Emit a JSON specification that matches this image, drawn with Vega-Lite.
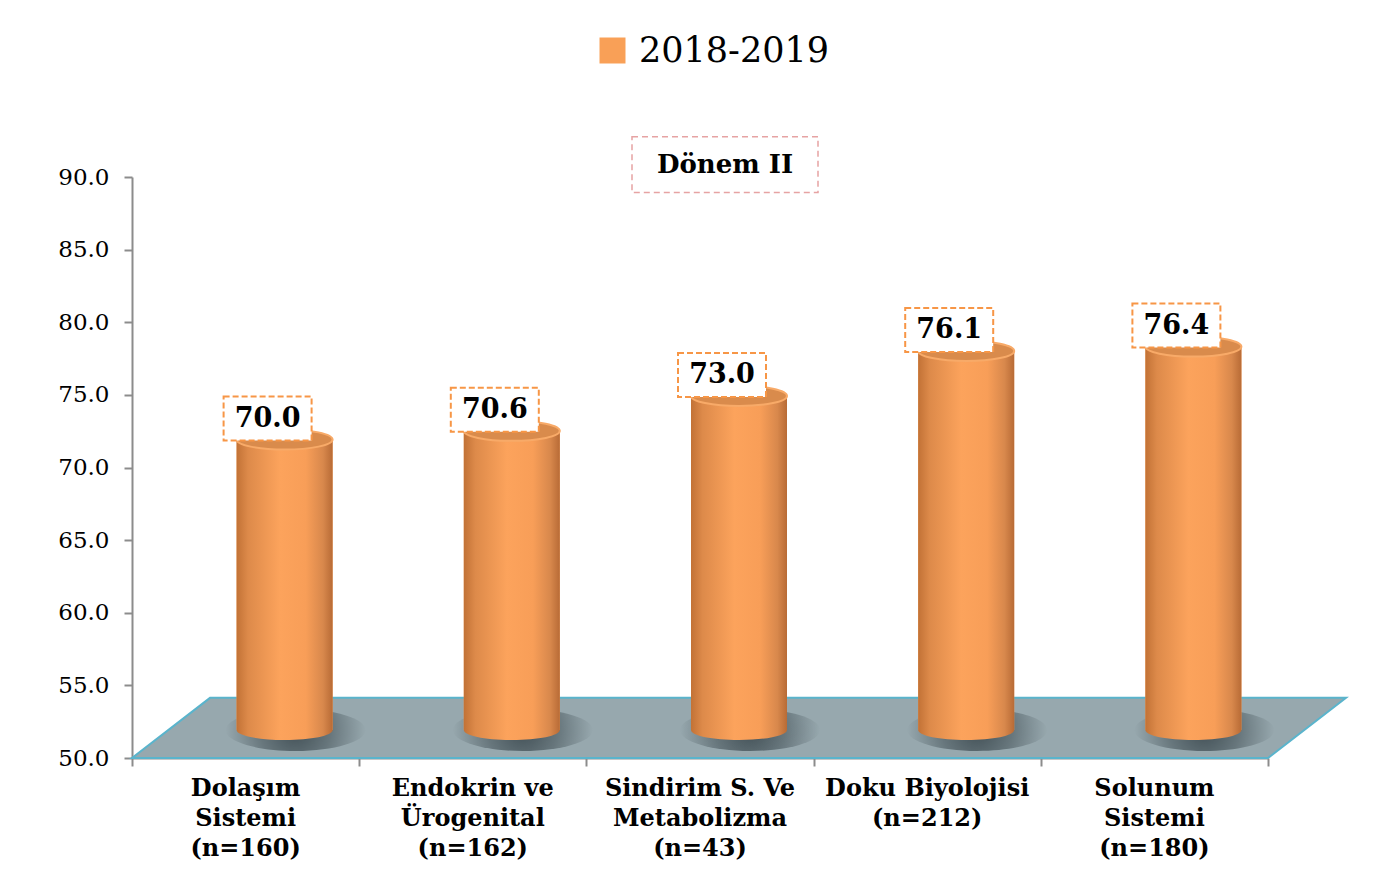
{
  "$schema": "https://vega.github.io/schema/vega-lite/v6.json",
  "width": 1136,
  "height": 581,
  "autosize": {"type": "none"},
  "padding": {"left": 132, "top": 177, "right": 122, "bottom": 128},
  "background": "white",
  "config": {"view": {"stroke": null}, "font": "DejaVu Serif"},
  "datasets": {
    "bars": [
      {"cat": "Dolaşım\nSistemi\n(n=160)", "value": 70.0, "series": "2018-2019"},
      {"cat": "Endokrin ve\nÜrogenital\n(n=162)", "value": 70.6, "series": "2018-2019"},
      {"cat": "Sindirim S. Ve\nMetabolizma\n(n=43)", "value": 73.0, "series": "2018-2019"},
      {"cat": "Doku Biyolojisi\n(n=212)", "value": 76.1, "series": "2018-2019"},
      {"cat": "Solunum\nSistemi\n(n=180)", "value": 76.4, "series": "2018-2019"}
    ],
    "floor": [
      {"fx": 0, "lo": 50, "hi": 50},
      {"fx": 0.0687, "lo": 50, "hi": 54.14},
      {"fx": 1, "lo": 50, "hi": 54.14},
      {"fx": 1.0687, "lo": 54.14, "hi": 54.14}
    ]
  },
  "resolve": {"scale": {"x": "independent"}},
  "layer": [
    {
      "data": {"name": "floor"},
      "mark": {"type": "area", "fill": "#97a8ae", "stroke": "#5ab4cc", "strokeWidth": 2, "opacity": 1},
      "encoding": {
        "x": {
          "field": "fx", "type": "quantitative",
          "scale": {"domain": [0, 1], "nice": false, "zero": false},
          "axis": {"orient": "bottom", "values": [0, 0.2, 0.4, 0.6, 0.8, 1], "labels": false, "tickSize": 8, "tickColor": "#8c8c8c", "tickWidth": 2, "domainColor": "#8c8c8c", "domainWidth": 2, "grid": false, "title": null}
        },
        "y": {
          "field": "lo", "type": "quantitative",
          "scale": {"domain": [50, 90], "nice": false, "zero": false},
          "axis": {"values": [50, 55, 60, 65, 70, 75, 80, 85, 90], "format": ".1f", "labelFont": "DejaVu Serif", "labelFontSize": 23, "labelColor": "#000", "tickSize": 8, "tickColor": "#8c8c8c", "tickWidth": 2, "domainColor": "#8c8c8c", "domainWidth": 2, "grid": false, "title": null, "labelPadding": 15}
        },
        "y2": {"field": "hi"}
      }
    },
    {
      "data": {"name": "bars"},
      "encoding": {
        "x": {
          "field": "cat", "type": "nominal", "sort": null,
          "scale": {"paddingInner": 0, "paddingOuter": 0},
          "axis": {"orient": "bottom", "domain": false, "ticks": false, "labelAngle": 0, "labelFont": "DejaVu Serif", "labelFontWeight": "bold", "labelFontSize": 24, "labelColor": "#000", "labelPadding": 18, "labelLineHeight": 30, "labelLimit": 0, "labelExpr": "split(datum.label, '\\n')", "title": null}
        }
      },
      "layer": [
        {
          "mark": {"type": "point", "filled": true, "opacity": 1, "shape": "M-1,0 A1,0.3 0 0,1 1,0 A1,0.3 0 0,1 -1,0 Z", "size": 19600, "xOffset": 50, "yOffset": -28, "strokeWidth": 0,
            "fill": {"gradient": "radial", "stops": [{"offset": 0, "color": "rgba(45,58,64,0.8)"}, {"offset": 0.5, "color": "rgba(45,58,64,0.45)"}, {"offset": 1, "color": "rgba(45,58,64,0)"}]}},
          "encoding": {"y": {"datum": 50, "type": "quantitative", "scale": {"domain": [50, 90], "nice": false, "zero": false}}}
        },
        {
          "mark": {"type": "bar", "width": 96, "xOffset": 39, "x2Offset": 39, "yOffset": -28, "y2Offset": -28},
          "encoding": {
            "y": {"field": "value", "type": "quantitative", "scale": {"domain": [50, 90], "nice": false, "zero": false}, "title": null},
            "y2": {"datum": 50},
            "color": {"field": "series", "type": "nominal", "scale": {"range": ["#f9a057"]},
              "legend": {"orient": "none", "legendX": 463, "legendY": -144, "title": null, "symbolType": "square", "symbolSize": 676, "labelFont": "DejaVu Serif", "labelFontSize": 35, "labelColor": "#000", "labelOffset": 9, "labelLimit": 0, "padding": 0, "symbolStrokeWidth": 0, "symbolOpacity": 1}}
          }
        },
        {
          "mark": {"type": "bar", "width": 96, "xOffset": 39, "x2Offset": 39, "yOffset": -28, "y2Offset": -28,
            "fill": {"gradient": "linear", "x1": 0, "y1": 0, "x2": 1, "y2": 0, "stops": [{"offset": 0, "color": "#c27236"}, {"offset": 0.12, "color": "#dd8a4a"}, {"offset": 0.45, "color": "#fca35c"}, {"offset": 0.72, "color": "#f89e58"}, {"offset": 0.9, "color": "#d8884c"}, {"offset": 1, "color": "#b86b36"}]}},
          "encoding": {
            "y": {"field": "value", "type": "quantitative", "scale": {"domain": [50, 90], "nice": false, "zero": false}, "title": null},
            "y2": {"datum": 50}
          }
        },
        {
          "mark": {"type": "point", "filled": true, "opacity": 1, "shape": "M-1,0 A1,0.21 0 0,0 1,0 Z", "size": 9216, "xOffset": 39, "yOffset": -28, "strokeWidth": 0,
            "fill": {"gradient": "linear", "x1": 0, "y1": 0, "x2": 1, "y2": 0, "stops": [{"offset": 0, "color": "#c27236"}, {"offset": 0.12, "color": "#dd8a4a"}, {"offset": 0.45, "color": "#fca35c"}, {"offset": 0.72, "color": "#f89e58"}, {"offset": 0.9, "color": "#d8884c"}, {"offset": 1, "color": "#b86b36"}]}},
          "encoding": {"y": {"datum": 50, "type": "quantitative", "scale": {"domain": [50, 90], "nice": false, "zero": false}}}
        },
        {
          "mark": {"type": "point", "filled": true, "opacity": 1, "shape": "M-1,0 A1,0.21 0 0,1 1,0 A1,0.21 0 0,1 -1,0 Z", "size": 9216, "xOffset": 39, "yOffset": -28, "fill": "#d98b4c", "stroke": "#f8aa68", "strokeWidth": 2},
          "encoding": {"y": {"field": "value", "type": "quantitative", "scale": {"domain": [50, 90], "nice": false, "zero": false}}}
        },
        {
          "mark": {"type": "point", "filled": true, "opacity": 1, "shape": "M-1,-0.5 H1 V0.5 H-1 Z", "size": 7744, "xOffset": 22, "yOffset": -49, "fill": "#ffffff", "stroke": "#f79646", "strokeWidth": 2, "strokeDash": [6, 3]},
          "encoding": {"y": {"field": "value", "type": "quantitative", "scale": {"domain": [50, 90], "nice": false, "zero": false}}}
        },
        {
          "mark": {"type": "text", "xOffset": 22, "yOffset": -49, "font": "DejaVu Serif", "fontWeight": "bold", "fontSize": 27, "color": "#000", "align": "center", "baseline": "middle"},
          "encoding": {
            "y": {"field": "value", "type": "quantitative", "scale": {"domain": [50, 90], "nice": false, "zero": false}},
            "text": {"field": "value", "type": "quantitative", "format": ".1f"}
          }
        },
        {
          "data": {"values": [{"t": "Dönem II"}]},
          "mark": {"type": "point", "filled": true, "opacity": 1, "shape": "M-1,-0.3 H1 V0.3 H-1 Z", "size": 34596, "xOffset": 25, "fill": "#ffffff", "stroke": "#e6a3a3", "strokeWidth": 1.5, "strokeDash": [6, 4]},
          "encoding": {
            "x": {"datum": "Sindirim S. Ve\nMetabolizma\n(n=43)", "type": "nominal"},
            "y": {"datum": 90.85, "type": "quantitative", "scale": {"domain": [50, 90], "nice": false, "zero": false}}
          }
        },
        {
          "data": {"values": [{"t": "Dönem II"}]},
          "mark": {"type": "text", "xOffset": 25, "font": "DejaVu Serif", "fontWeight": "bold", "fontSize": 26, "color": "#000", "align": "center", "baseline": "middle"},
          "encoding": {
            "x": {"datum": "Sindirim S. Ve\nMetabolizma\n(n=43)", "type": "nominal"},
            "y": {"datum": 90.85, "type": "quantitative", "scale": {"domain": [50, 90], "nice": false, "zero": false}},
            "text": {"field": "t", "type": "nominal"}
          }
        }
      ]
    }
  ]
}
